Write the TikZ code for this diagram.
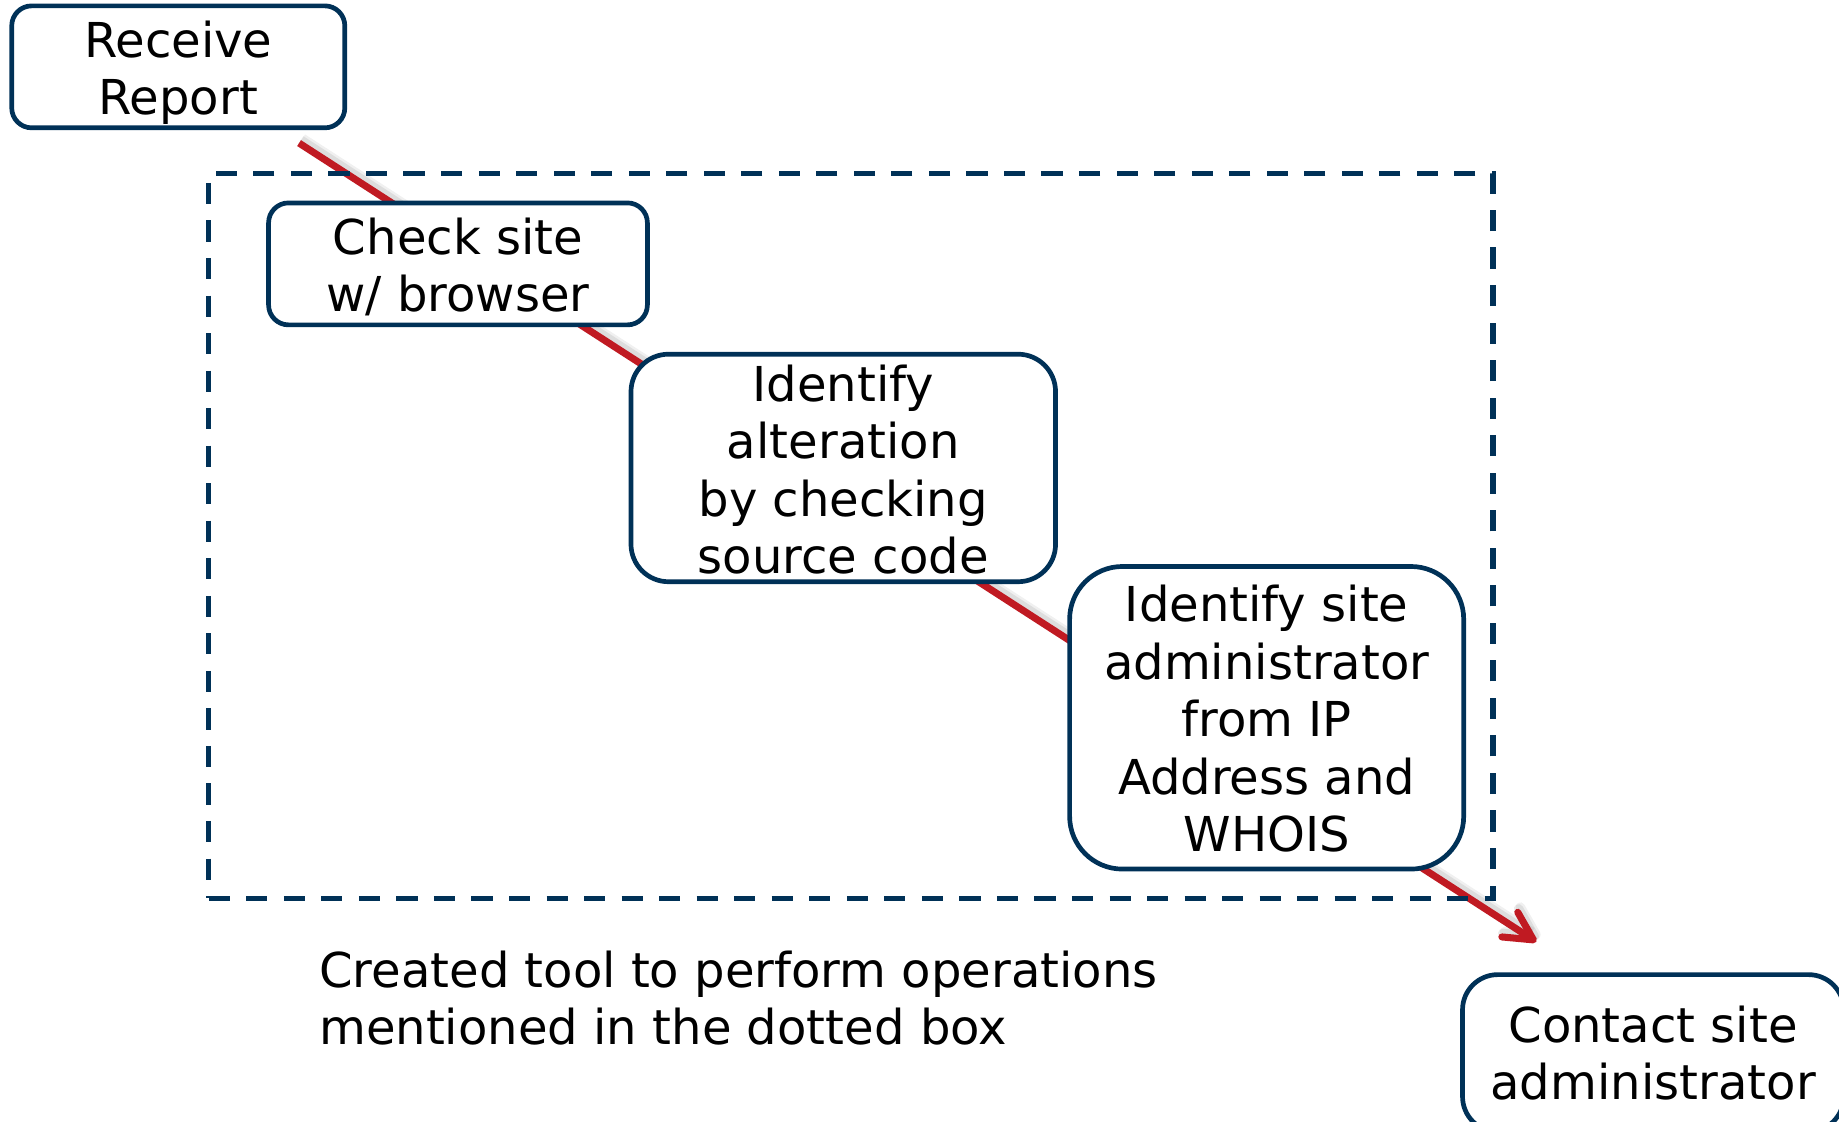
\documentclass[tikz,border=0pt]{standalone}
\usepackage{fontspec}
\setmainfont{DejaVu Sans}
\usetikzlibrary{arrows.meta,backgrounds}

\definecolor{navy}{RGB}{0,49,87}
\definecolor{flowred}{RGB}{192,26,34}

\tikzset{
  stepbox/.style={draw=navy, line width=4pt, fill=white, align=center,
    inner sep=0pt, outer sep=0pt, text=black,
    font=\fontsize{41}{49}\selectfont},
  toolframe/.style={draw=navy, line width=4.5pt, dash pattern=on 18pt off 14pt,
    inner sep=0pt, outer sep=0pt},
  flowline/.style={draw=flowred, line width=6pt,
    -{Straight Barb[length=24pt,width=25pt,round]}},
  flowshadow/.style={draw=black, opacity=#1, line width=8pt,
    -{Straight Barb[length=24pt,width=25pt,round]}},
  caption/.style={align=left, inner sep=0pt, anchor=west,
    font=\fontsize{41}{49}\selectfont}
}
% extra height on a first line pushes the text block down inside its box
\newcommand{\lift}[1]{\rule{0pt}{#1}}

\begin{document}
\begin{tikzpicture}[x=1pt, y=-1pt]
  \useasboundingbox (0,0) rectangle (1568,956);
  \clip (0,0) rectangle (1568,956);

  % dashed frame around the automated steps
  \node[toolframe, minimum width=1095pt, minimum height=618pt] (tool) at (725.5,457) {};

  % process steps
  \node[stepbox, rounded corners=17pt, minimum width=284pt, minimum height=104pt]
    (recv) at (152,57) {\lift{41pt}Receive\\Report};
  \node[stepbox, rounded corners=17pt, minimum width=323pt, minimum height=104pt]
    (check) at (390.5,225) {\lift{36pt}Check site\\w/ browser};
  \node[stepbox, rounded corners=32pt, minimum width=362pt, minimum height=194pt]
    (alter) at (719,399) {\lift{34pt}Identify\\alteration\\by checking\\source code};
  \node[stepbox, rounded corners=45pt, minimum width=336pt, minimum height=258pt]
    (admin) at (1080,612) {\lift{33pt}Identify site\\administrator\\from IP\\Address and\\WHOIS};
  \node[stepbox, rounded corners=30pt, minimum width=325pt, minimum height=134pt]
    (contact) at (1409.5,898) {Contact site\\administrator};

  % caption
  \node[caption] (note) at (272,851)
    {Created tool to perform operations\\mentioned in the dotted box};

  % flow arrow running behind the steps, with a soft drop shadow
  \coordinate (flowStart) at (255,122);
  \coordinate (flowTip) at (1310,803);
  \begin{scope}[on background layer]
    \draw[flowshadow=0.06] ([shift={(3pt,4pt)}]flowStart) -- ([shift={(3pt,4pt)}]flowTip);
    \draw[flowshadow=0.08] ([shift={(1.5pt,2.5pt)}]flowStart) -- ([shift={(1.5pt,2.5pt)}]flowTip);
    \draw[flowline] (flowStart) -- (flowTip);
  \end{scope}
\end{tikzpicture}
\end{document}
